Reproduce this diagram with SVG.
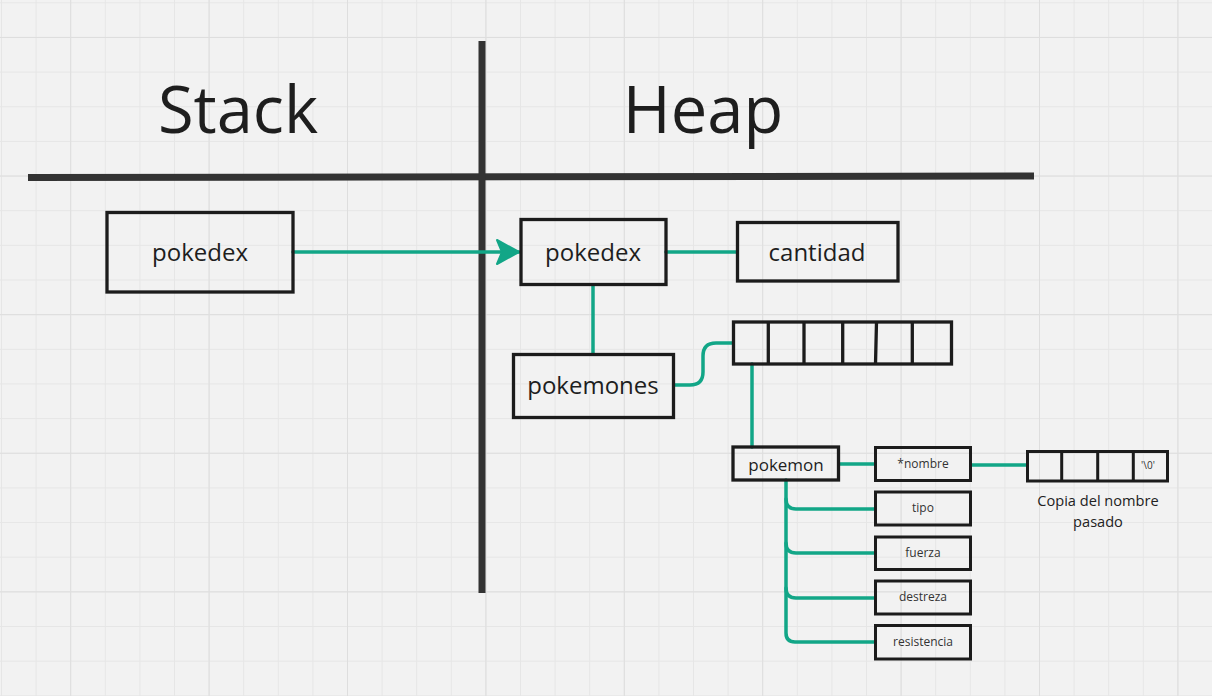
<svg xmlns="http://www.w3.org/2000/svg" width="1212" height="696" viewBox="0 0 1212 696">
<style>
text{font-family:"Open Sans","Noto Sans","Liberation Sans",sans-serif;fill:#1e1e1e;text-anchor:middle}
.box{fill:none;stroke:#1c1c1c;stroke-width:3.3}
.sm{fill:none;stroke:#1c1c1c;stroke-width:3}
.conn{fill:none;stroke:#12a687;stroke-width:3.5;stroke-linecap:round;stroke-linejoin:round}
.div{stroke:#333;stroke-width:7;fill:none}
.big{font-size:65px}
.lbl{font-size:24px}
.s12{font-size:12px;fill:#333}
</style>
<defs>
<pattern id="minor" patternUnits="userSpaceOnUse" x="1" y="2.3" width="34.6" height="34.65">
<path d="M0.5,0V34.65M0,0.5H34.6" stroke="#e6e6e6" stroke-width="1" fill="none"/>
</pattern>
<pattern id="major" patternUnits="userSpaceOnUse" x="70.2" y="36.95" width="138.4" height="138.6">
<path d="M0.5,0V138.6M0,0.5H138.4" stroke="#dedede" stroke-width="1" fill="none"/>
</pattern>
<marker id="arr" markerUnits="userSpaceOnUse" markerWidth="30" markerHeight="30" viewBox="-26 -15 30 30" refX="0" refY="0" orient="auto">
<path d="M0,0 L-22,-12 L-17,0 L-22,12 Z" fill="#12a687" stroke="#12a687" stroke-width="2" stroke-linejoin="round"/>
</marker>
</defs>
<rect width="1212" height="696" fill="#f2f2f2"/>
<rect width="1212" height="696" fill="url(#minor)"/>
<rect width="1212" height="696" fill="url(#major)"/>

<g id="dividers">
<path class="div" d="M28,177.5 L1034,176"/>
<path class="div" d="M482,41 V593"/>
</g>
<g id="titles">
<text class="big" x="238" y="133">Stack</text>
<text class="big" x="703" y="133">Heap</text>
</g>

<g id="connectors">
<path class="conn" d="M293,252 H519" marker-end="url(#arr)"/>
<path class="conn" d="M666,252 H737"/>
<path class="conn" d="M593,285 V354"/>
<path class="conn" d="M674,385 H690 Q703,385 703,372 V356 Q703,343 716,343 H733"/>
<path class="conn" d="M752,364 V447"/>
<path class="conn" d="M839,464 H875"/>
<path class="conn" d="M971,465 H1027"/>
<path class="conn" d="M786,480 V633 Q786,642 795,642 H875"/>
<path class="conn" d="M786,499 Q786,509 796,509 H875"/>
<path class="conn" d="M786,543 Q786,553 796,553 H875"/>
<path class="conn" d="M786,588 Q786,598 796,598 H875"/>
</g>

<g id="stack-pokedex">
<rect class="box" x="107" y="212.5" width="186" height="79.5"/>
<text class="lbl" x="200" y="261">pokedex</text>
</g>
<g id="heap-pokedex">
<rect class="box" x="521" y="219.5" width="145" height="65"/>
<text class="lbl" x="593" y="261">pokedex</text>
</g>
<g id="cantidad">
<rect class="box" x="737.5" y="222.5" width="160.5" height="58.5"/>
<text class="lbl" x="817" y="261">cantidad</text>
</g>
<g id="pokemones">
<rect class="box" x="513.5" y="354.5" width="160" height="63"/>
<text class="lbl" x="593" y="394">pokemones</text>
</g>
<g id="array">
<rect class="box" x="733.5" y="322" width="218" height="42"/>
<path class="box" d="M768.3,322V364M804,322V364M842.7,322V364M876.5,322L875.5,364M912.3,322V364"/>
</g>
<g id="pokemon">
<rect class="box" x="733" y="447" width="105.5" height="33"/>
<text x="786" y="471" style="font-size:17px">pokemon</text>
</g>
<g id="nombre">
<rect class="sm" x="875.5" y="447.5" width="95" height="33"/>
<text class="s12" x="923" y="468">*nombre</text>
</g>
<g id="tipo">
<rect class="sm" x="875.5" y="492" width="95" height="33"/>
<text class="s12" x="923" y="512">tipo</text>
</g>
<g id="fuerza">
<rect class="sm" x="875.5" y="537" width="95" height="32.5"/>
<text class="s12" x="923" y="557">fuerza</text>
</g>
<g id="destreza">
<rect class="sm" x="875.5" y="581" width="95" height="33"/>
<text class="s12" x="923" y="601">destreza</text>
</g>
<g id="resistencia">
<rect class="sm" x="875.5" y="625.5" width="95" height="33.5"/>
<text class="s12" x="923" y="646">resistencia</text>
</g>
<g id="char-array">
<rect class="sm" x="1027.5" y="451.5" width="140" height="29.5"/>
<path class="sm" d="M1061.7,451.5V481M1097.7,451.5V481M1133.3,451.5V481"/>
<text x="1148" y="469" style="font-size:10px;fill:#333">'\0'</text>
</g>
<g id="caption">
<text x="1098" y="506" style="font-size:14.6px;fill:#222">Copia del nombre</text>
<text x="1098" y="527" style="font-size:14.6px;fill:#222">pasado</text>
</g>
</svg>
